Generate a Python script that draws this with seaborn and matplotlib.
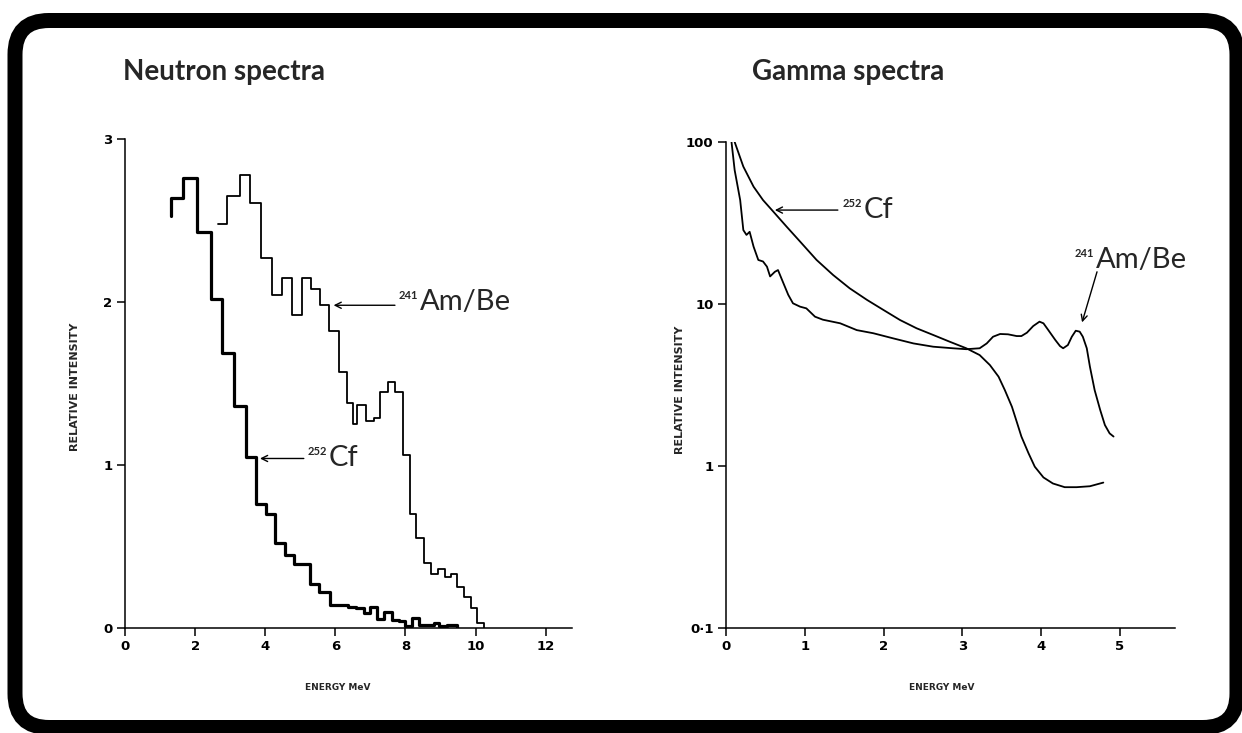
import matplotlib.pyplot as plt
import seaborn as sns
from matplotlib.patches import FancyBboxPatch
from matplotlib.ticker import NullLocator

### Data

# Neutron spectra (step histograms): bin edges in MeV, level of each bin
cf_neutron_start = 2.53
cf_neutron_edges = [1.31, 1.66, 2.05, 2.45, 2.78, 3.12, 3.45, 3.75, 4.02, 4.29, 4.55, 4.81, 5.27, 5.52,
                    5.85, 6.35, 6.60, 6.82, 7.00, 7.18, 7.40, 7.62, 7.82, 8.00, 8.19, 8.38, 8.60, 8.80,
                    8.95, 9.19, 9.48]
cf_neutron_level = [2.64, 2.76, 2.43, 2.02, 1.69, 1.36, 1.05, 0.76, 0.70, 0.52, 0.45, 0.39, 0.27, 0.22,
                    0.14, 0.13, 0.12, 0.09, 0.13, 0.055, 0.096, 0.05, 0.045, 0.01, 0.06, 0.02, 0.02, 0.03,
                    0.01, 0.02]

ambe_neutron_edges = [2.64, 2.90, 3.28, 3.56, 3.89, 4.20, 4.48, 4.77, 5.05, 5.30, 5.57, 5.82, 6.09, 6.34,
                      6.50, 6.63, 6.86, 7.10, 7.28, 7.51, 7.69, 7.93, 8.12, 8.31, 8.53, 8.74, 8.93, 9.12,
                      9.30, 9.48, 9.67, 9.86, 10.05, 10.25]
ambe_neutron_level = [2.48, 2.65, 2.78, 2.61, 2.27, 2.04, 2.15, 1.92, 2.15, 2.08, 1.98, 1.82, 1.57, 1.38,
                      1.25, 1.37, 1.27, 1.29, 1.45, 1.51, 1.45, 1.06, 0.70, 0.55, 0.40, 0.33, 0.36, 0.31,
                      0.33, 0.25, 0.19, 0.12, 0.03]

# Gamma spectra (smooth curves, log intensity)
cf_gamma_energy = [0.11, 0.22, 0.35, 0.47, 0.60, 0.77, 0.94, 1.15, 1.36, 1.57, 1.79, 2.00, 2.21, 2.42,
                   2.63, 2.84, 3.05, 3.22, 3.35, 3.46, 3.54, 3.63, 3.69, 3.75, 3.84, 3.92, 4.03, 4.15,
                   4.30, 4.45, 4.62, 4.79]
cf_gamma_intensity = [100, 70.5, 53, 43.8, 37.2, 30, 24.3, 18.7, 15.1, 12.5, 10.6, 9.18, 7.96, 7.08,
                      6.44, 5.85, 5.33, 4.84, 4.2, 3.56, 2.94, 2.32, 1.88, 1.52, 1.2, 0.99, 0.85, 0.78,
                      0.74, 0.74, 0.75, 0.79]

ambe_gamma_energy = [0.07, 0.11, 0.18, 0.22, 0.26, 0.30, 0.35, 0.41, 0.47, 0.52, 0.56, 0.62, 0.66, 0.73,
                     0.79, 0.85, 0.94, 1.02, 1.13, 1.23, 1.45, 1.66, 1.87, 2.12, 2.38, 2.63, 2.88, 3.05,
                     3.22, 3.31, 3.39, 3.48, 3.58, 3.69, 3.75, 3.82, 3.90, 3.98, 4.03, 4.09, 4.18, 4.24,
                     4.28, 4.34, 4.39, 4.44, 4.49, 4.53, 4.58, 4.62, 4.68, 4.75, 4.81, 4.87, 4.92]
ambe_gamma_intensity = [100, 67, 43.8, 28.6, 26.7, 27.9, 22.6, 18.7, 18.3, 17.0, 14.8, 15.8, 16.2, 13.4,
                        11.4, 10.1, 9.63, 9.4, 8.35, 8.0, 7.6, 6.9, 6.6, 6.14, 5.71, 5.45, 5.33, 5.26,
                        5.33, 5.71, 6.28, 6.53, 6.5, 6.34, 6.34, 6.65, 7.31, 7.78, 7.6, 6.92, 6.0, 5.5,
                        5.33, 5.58, 6.28, 6.84, 6.75, 6.28, 5.33, 4.1, 2.94, 2.22, 1.79, 1.59, 1.52]

neutron_xticks = [0, 2, 4, 6, 8, 10, 12]
neutron_yticks = [0, 1, 2, 3]
gamma_xticks = [0, 1, 2, 3, 4, 5]
gamma_yticks = [0.1, 1, 10, 100]
gamma_yticklabels = ["0\u00b71", "1", "10", "100"]

####

sns.set_theme(style="ticks")
plt.rcParams['font.family'] = ['Lato', 'DejaVu Sans']

W, H = 1242, 733

def fx(px):
  return px / W

def fy(py):
  return 1 - py / H

fig = plt.figure(figsize=(W / 100, H / 100), dpi=100)
fig.patch.set_facecolor('white')

# rounded frame round the whole figure
bg = fig.add_axes([0, 0, 1, 1])
bg.set_xlim(0, W)
bg.set_ylim(H, 0)
bg.axis('off')
bg.add_patch(FancyBboxPatch((15, 20.5), 1222, 707, boxstyle="round,pad=0,rounding_size=34",
                            lw=10.8, ec='black', fc='none'))

def style_axes(ax):
  ax.set_facecolor('none')
  for side in ['top', 'right']:
    ax.spines[side].set_visible(False)
  for side in ['left', 'bottom']:
    ax.spines[side].set_color('black')
    ax.spines[side].set_linewidth(1.1)
  ax.tick_params(direction='out', length=6, width=1.1, colors='black', labelsize=9.5, pad=3)
  for lbl in ax.get_xticklabels() + ax.get_yticklabels():
    lbl.set_fontweight('bold')
    lbl.set_family('DejaVu Sans')
  ax.set_xlabel('')
  ax.set_ylabel('')

def label(ax, x, y, iso, name, big=21, small=8):
  ax.annotate(iso, xy=(x, y), xytext=(0, 5), textcoords='offset points', ha='left', va='center',
              fontsize=small, fontweight='bold')
  ax.annotate(name, xy=(x, y), xytext=(small * 1.9, 0), textcoords='offset points', ha='left',
              va='center', fontsize=big)

def arrow(ax, tip, tail):
  ax.annotate('', xy=tip, xytext=tail,
              arrowprops=dict(arrowstyle='->', color='black', lw=1.0, mutation_scale=11,
                              shrinkA=0, shrinkB=0))

# Neutron spectra
axL = fig.add_axes([fx(125), 105 / H, 447 / W, 489 / H])
sns.lineplot(x=[cf_neutron_edges[0]] + cf_neutron_edges, y=[cf_neutron_start] + cf_neutron_level + [0],
             ax=axL, estimator=None, sort=False, drawstyle='steps-post', color='black', lw=2.3)
sns.lineplot(x=ambe_neutron_edges, y=ambe_neutron_level + [0],
             ax=axL, estimator=None, sort=False, drawstyle='steps-post', color='black', lw=1.3)
axL.set_xlim(0, 12.75)
axL.set_ylim(0, 3)
axL.set_xticks(neutron_xticks)
axL.set_yticks(neutron_yticks)
style_axes(axL)
arrow(axL, (5.95, 1.98), (7.7, 1.98))
label(axL, 7.8, 2.0, '241', 'Am/Be')
arrow(axL, (3.85, 1.04), (5.1, 1.04))
label(axL, 5.2, 1.04, '252', 'Cf')

# Gamma spectra
axR = fig.add_axes([fx(726), 105 / H, 449 / W, 486 / H])
sns.lineplot(x=cf_gamma_energy, y=cf_gamma_intensity, ax=axR, estimator=None, sort=False,
             color='black', lw=1.3)
sns.lineplot(x=ambe_gamma_energy, y=ambe_gamma_intensity, ax=axR, estimator=None, sort=False,
             color='black', lw=1.3)
axR.set_yscale('log')
axR.set_xlim(0, 5.7)
axR.set_ylim(0.1, 100)
axR.set_xticks(gamma_xticks)
axR.set_yticks(gamma_yticks)
axR.set_yticklabels(gamma_yticklabels)
axR.yaxis.set_minor_locator(NullLocator())
style_axes(axR)
arrow(axR, (0.62, 38), (1.42, 38))
label(axR, 1.48, 38, '252', 'Cf')
arrow(axR, (4.52, 7.7), (4.71, 15.8))
label(axR, 4.43, 18.7, '241', 'Am/Be')

# titles and axis labels
fig.text(fx(123), fy(72), 'Neutron spectra', ha='left', va='center', fontsize=20, fontweight='bold')
fig.text(fx(752), fy(72), 'Gamma spectra', ha='left', va='center', fontsize=20, fontweight='bold')
small_lbl = dict(ha='center', va='center', fontweight='bold', family='DejaVu Sans')
fig.text(fx(338), fy(688), 'ENERGY MeV', fontsize=6.5, **small_lbl)
fig.text(fx(942), fy(688), 'ENERGY MeV', fontsize=6.5, **small_lbl)
fig.text(fx(75), fy(387), 'RELATIVE INTENSITY', rotation=90, fontsize=8, **small_lbl)
fig.text(fx(680), fy(390), 'RELATIVE INTENSITY', rotation=90, fontsize=8, **small_lbl)

fig.savefig('out.png', dpi=100)
